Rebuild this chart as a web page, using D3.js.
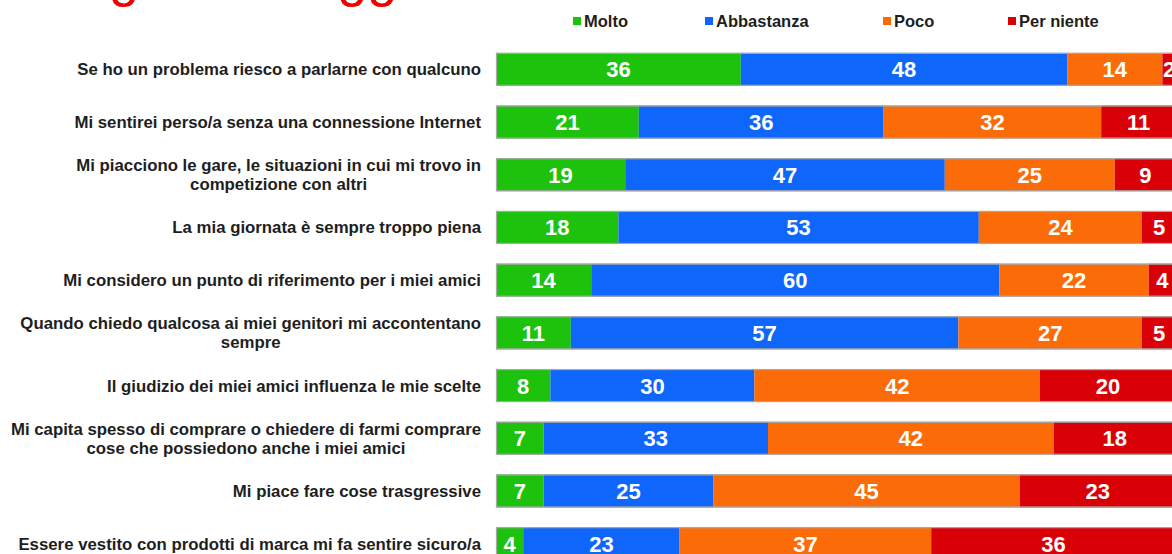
<!DOCTYPE html>
<html>
<head>
<meta charset="utf-8">
<script src="https://cdn.jsdelivr.net/npm/d3@7"></script>
<style>
    body { margin: 0; background: #fff; }
    svg { display: block; }
</style>
</head>
<body>
<script>
var categories = [
    ['Se ho un problema riesco a parlarne con qualcuno'],
    ['Mi sentirei perso/a senza una connessione Internet'],
    ['Mi piacciono le gare, le situazioni in cui mi trovo in', 'competizione con altri'],
    ['La mia giornata è sempre troppo piena'],
    ['Mi considero un punto di riferimento per i miei amici'],
    ['Quando chiedo qualcosa ai miei genitori mi accontentano', 'sempre'],
    ['Il giudizio dei miei amici influenza le mie scelte'],
    ['Mi capita spesso di comprare o chiedere di farmi comprare', 'cose che possiedono anche i miei amici'],
    ['Mi piace fare cose trasgressive'],
    ['Essere vestito con prodotti di marca mi fa sentire sicuro/a']
];
var series = ['Molto', 'Abbastanza', 'Poco', 'Per niente'];
var molto      = [36, 21, 19, 18, 14, 11, 8, 7, 7, 4];
var abbastanza = [48, 36, 47, 53, 60, 57, 30, 33, 25, 23];
var poco       = [14, 32, 25, 24, 22, 27, 42, 42, 45, 37];
var perNiente  = [2, 11, 9, 5, 4, 5, 20, 18, 23, 36];
var colors = ['#1cc20b', '#0f66fb', '#fb6b08', '#da0008'];

var width = 1172, height = 554;

var svg = d3.select('body').append('svg')
    .attr('width', width)
    .attr('height', height);

// title (only its descenders are visible)
svg.append('text')
    .attr('x', 31)
    .attr('y', -4)
    .attr('fill', '#ee0000')
    .style('font-family', 'Liberation Sans, Arial, sans-serif')
    .style('font-size', '54px')
    .text('I ragazzi di oggi');

var rows = categories.map((c, i) => ({
    label: c,
    values: [molto[i], abbastanza[i], poco[i], perNiente[i]]
}));

var x = d3.scaleLinear().domain([0, 100]).range([496, 1176]);
var y = d3.scaleBand()
    .domain(d3.range(rows.length))
    .range([43, 570])
    .paddingInner(0.374)
    .paddingOuter(0.187);

//bars
var row = svg.selectAll('g.row')
    .data(rows).enter()
    .append('g')
    .attr('class', 'row')
    .attr('transform', (d, i) => `translate(0,${y(i)})`);

row.selectAll('rect.seg')
    .data(d => {
        var acc = 0;
        return d.values.map((v, k) => {
            var s = {v: v, k: k, x0: acc, x1: acc + v};
            acc += v;
            return s;
        });
    }).enter()
    .append('rect')
    .attr('class', 'seg')
    .attr('x', s => x(s.x0))
    .attr('width', s => x(s.x1) - x(s.x0))
    .attr('y', 0)
    .attr('height', y.bandwidth())
    .attr('fill', s => colors[s.k]);

row.append('rect')
    .attr('x', x(0) + 0.5)
    .attr('y', 0.5)
    .attr('width', x(100) - x(0))
    .attr('height', y.bandwidth() - 1)
    .attr('fill', 'none')
    .attr('stroke', '#a8a8a8')
    .attr('stroke-width', 1.2);

row.selectAll('text.val')
    .data(d => {
        var acc = 0;
        return d.values.map(v => {
            var s = {v: v, mid: acc + v / 2};
            acc += v;
            return s;
        });
    }).enter()
    .append('text')
    .attr('class', 'val')
    .attr('x', s => x(s.mid))
    .attr('y', y.bandwidth() / 2 + 8)
    .attr('text-anchor', 'middle')
    .attr('fill', '#fff')
    .style('font-family', 'Liberation Sans, Arial, sans-serif')
    .style('font-weight', 'bold')
    .style('font-size', '22px')
    .text(s => s.v);

//category labels
svg.append('g').attr('class', 'labs');
row.each(function (d) {
    var g = d3.select(this);
    var cy = y.bandwidth() / 2;
    var n = d.label.length;
    var lineH = 19;
    var first = g.append('text')
        .attr('x', 481)
        .attr('y', cy - (n - 1) * lineH / 2 + 6)
        .attr('text-anchor', 'end')
        .attr('class', 'lab')
        .style('font-family', 'Liberation Sans, Arial, sans-serif')
        .style('font-weight', 'bold')
        .style('font-size', '16.8px')
        .text(d.label[0]);
    if (n > 1) {
        var w = first.node().getComputedTextLength();
        g.append('text')
            .attr('x', 481 - w / 2)
            .attr('y', cy + lineH / 2 + 6)
            .attr('text-anchor', 'middle')
            .attr('class', 'lab')
            .style('font-family', 'Liberation Sans, Arial, sans-serif')
            .style('font-weight', 'bold')
            .style('font-size', '16.8px')
            .text(d.label[1]);
    }
});
svg.selectAll('text.lab').attr('fill', '#1e1e1e');

//legend
var legendX = [573, 705, 883, 1008];
var legend = svg.selectAll('g.legend')
    .data(series).enter()
    .append('g')
    .attr('class', 'legend')
    .attr('transform', (d, i) => `translate(${legendX[i]},21)`);
legend.append('rect')
    .attr('x', 0)
    .attr('y', -4)
    .attr('width', 8)
    .attr('height', 8)
    .attr('fill', (d, i) => colors[i]);
legend.append('text')
    .attr('x', 11)
    .attr('y', 5.5)
    .attr('fill', '#1e1e1e')
    .style('font-family', 'Liberation Sans, Arial, sans-serif')
    .style('font-weight', 'bold')
    .style('font-size', '16.5px')
    .text(d => d);
</script>
</body>
</html>
